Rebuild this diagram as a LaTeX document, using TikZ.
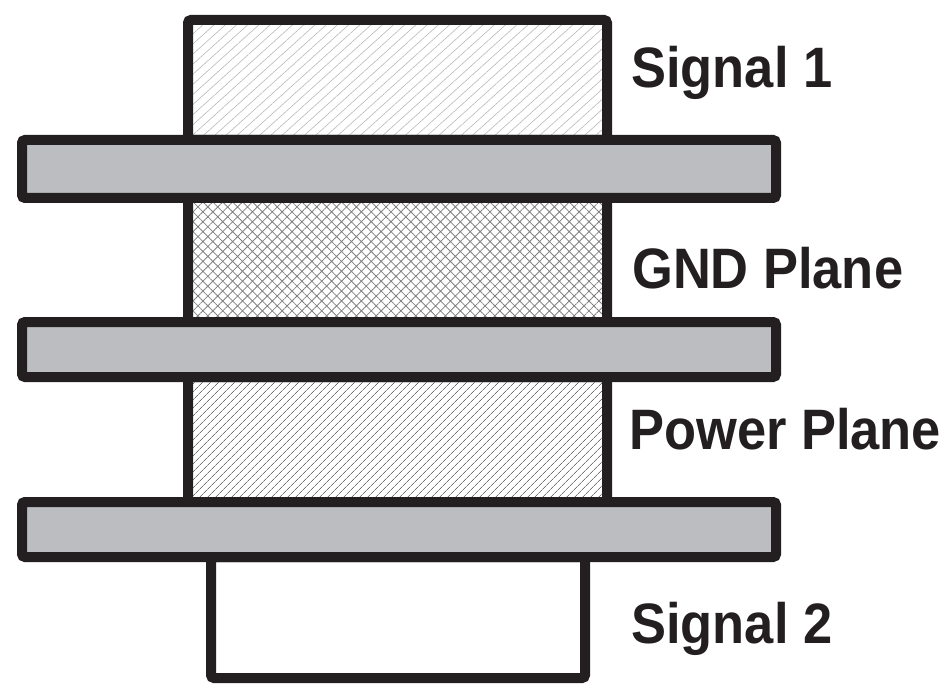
\documentclass[tikz,border=0pt]{standalone}
\usepackage{fontspec}
\setmainfont{Liberation Sans}[FakeStretch=0.92]
\usetikzlibrary{patterns.meta}
\definecolor{ink}{HTML}{231F20}
\definecolor{barfill}{HTML}{BCBDC1}
\tikzset{
  layer/.style={draw=ink, line width=10pt, rounded corners=3pt},
  bar/.style={layer, fill=barfill},
  lbl/.style={anchor=base west, inner sep=0pt, text=ink, font=\fontsize{57}{60}\selectfont\bfseries}
}
\begin{document}
\begin{tikzpicture}[x=1pt,y=-1pt]
\useasboundingbox (0,0) rectangle (944,692);
% hatched / plain layers
\path[layer, pattern={Lines[angle=42,distance=7.5pt,line width=0.6pt]}, pattern color=black!28] (188,20) rectangle (607,140);
\path[layer, pattern={Hatch[angle=45,distance=7pt,line width=0.8pt]}, pattern color=black!50] (188,198) rectangle (607,322);
\path[layer, pattern={Lines[angle=45,distance=5.4pt,line width=0.7pt]}, pattern color=black!55] (188,377) rectangle (607,502);
\path[layer, fill=white] (211,557) rectangle (585,678);
% dielectric bars
\path[bar] (22,140) rectangle (776,198);
\path[bar] (22,322) rectangle (776,377);
\path[bar] (22,502) rectangle (776,557);
% labels
\node[lbl] (s1) at (631,88) {Signal 1};
\node[lbl] (gnd) at (632,289) {GND Plane};
\node[lbl] (pwr) at (629,449) {Power Plane};
\node[lbl] (s2) at (631,643) {Signal 2};
\end{tikzpicture}
\end{document}
